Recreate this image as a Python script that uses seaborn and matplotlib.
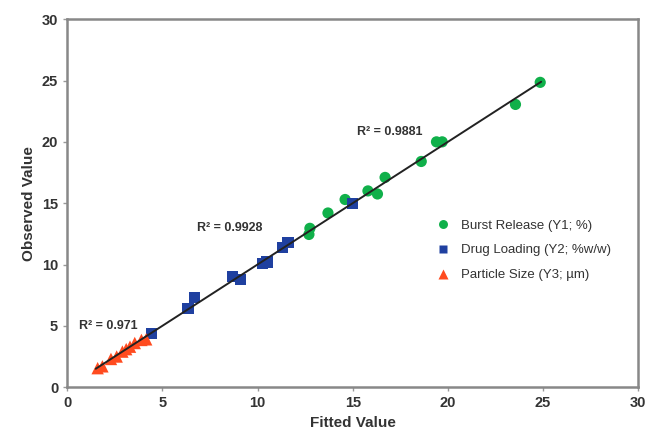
import numpy as np
import pandas as pd
import matplotlib
matplotlib.use("Agg")
import matplotlib.pyplot as plt
import seaborn as sns

# values
burst_fitted = [24.85, 23.55, 19.4, 19.7, 18.6, 16.7, 16.3, 15.8, 14.6, 13.7, 12.75, 12.7]
burst_observed = [24.85, 23.05, 20.0, 20.0, 18.4, 17.1, 15.75, 16.0, 15.3, 14.2, 12.95, 12.45]

drug_fitted = [15.0, 11.6, 11.3, 10.5, 10.25, 9.1, 8.7, 6.7, 6.35, 4.45]
drug_observed = [15.0, 11.8, 11.4, 10.2, 10.1, 8.75, 9.0, 7.3, 6.4, 4.35]

size_fitted = [1.6, 1.85, 2.3, 2.6, 2.9, 3.1, 3.3, 3.55, 3.9, 4.15]
size_observed = [1.55, 1.7, 2.3, 2.5, 2.9, 3.1, 3.3, 3.6, 3.85, 3.9]

line_x = [1.5, 24.9]
line_y = [1.5, 24.9]

series_names = ["Burst Release (Y1; %)", "Drug Loading (Y2; %w/w)", "Particle Size (Y3; µm)"]
r2_labels = ["R² = 0.9881", "R² = 0.9928", "R² = 0.971"]
r2_pos = [(15.2, 20.8), (6.8, 13.0), (0.6, 5.0)]

df = pd.DataFrame({
    "fitted": burst_fitted + drug_fitted + size_fitted,
    "observed": burst_observed + drug_observed + size_observed,
    "series": [series_names[0]] * len(burst_fitted)
              + [series_names[1]] * len(drug_fitted)
              + [series_names[2]] * len(size_fitted),
})

sns.set_style("white")
plt.rcParams['font.family'] = ['Liberation Sans', 'DejaVu Sans']

fig = plt.figure(figsize=(6.46, 4.36), dpi=100)
ax = fig.add_axes([0.104, 0.112, 0.884, 0.844])

sns.lineplot(x=line_x, y=line_y, color="#222222", linewidth=1.4, ax=ax, zorder=3)

palette = {series_names[0]: "#10b04a", series_names[1]: "#1f40a0", series_names[2]: "#ff4b1f"}
markers = {series_names[0]: "o", series_names[1]: "s", series_names[2]: "^"}
sizes = {series_names[0]: 65, series_names[1]: 65, series_names[2]: 80}
sns.scatterplot(data=df, x="fitted", y="observed", hue="series", style="series",
                size="series", sizes=sizes,
                palette=palette, markers=markers, edgecolor="none",
                ax=ax, zorder=2)

for lab, (x, y) in zip(r2_labels, r2_pos):
    ax.text(x, y, lab, fontsize=9, fontweight="bold", color="#333333", va="center")

ax.set_xlim(0, 30)
ax.set_ylim(0, 30)
ax.set_xticks(range(0, 31, 5))
ax.set_yticks(range(0, 31, 5))
ax.set_xlabel("Fitted Value", fontsize=11, fontweight="bold", color="#333333")
ax.set_ylabel("Observed Value", fontsize=11, fontweight="bold", color="#333333")
for lab in ax.get_xticklabels() + ax.get_yticklabels():
    lab.set_fontweight("bold")
ax.tick_params(axis="both", labelsize=10.5, labelcolor="#333333", colors="#999999",
               length=3, width=1, direction="out", bottom=True, left=True)
for sp in ax.spines.values():
    sp.set_color("#888888")
    sp.set_linewidth(1.8)

handles, labels = ax.get_legend_handles_labels()
leg = ax.legend(handles, labels, loc="center left", bbox_to_anchor=(0.615, 0.372),
                frameon=False, fontsize=9.5, handletextpad=0.3, labelspacing=0.95,
                markerscale=0.8)
for t in leg.get_texts():
    t.set_color("#333333")

fig.savefig("out.png", dpi=100)
